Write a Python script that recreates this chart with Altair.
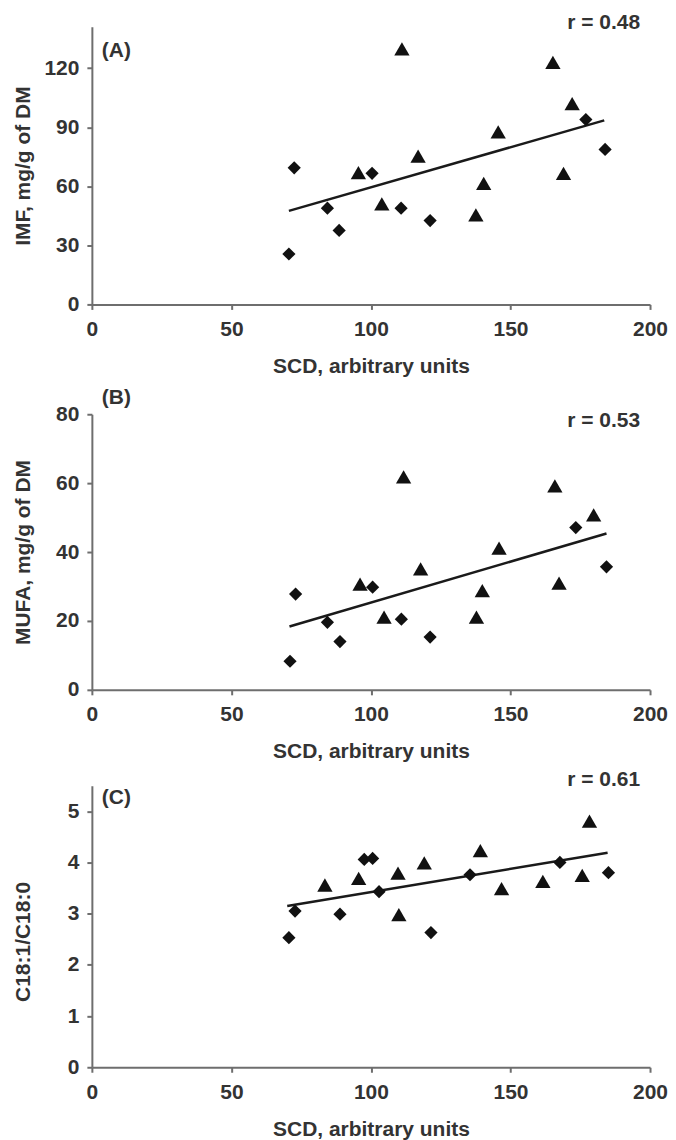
import altair as alt
import pandas as pd

# ---------------- data ----------------
# Panel A: IMF
a_dia_x = [70.6, 72.5, 84.4, 88.6, 100.4, 110.8, 121.2, 177.0, 183.9]
a_dia_y = [25.6, 69.4, 48.9, 37.6, 66.6, 48.9, 42.6, 93.9, 78.7]
a_tri_x = [95.5, 103.9, 111.1, 116.9, 137.6, 140.4, 145.6, 165.2, 169.0, 172.1]
a_tri_y = [66.9, 51.1, 129.8, 75.3, 45.5, 61.5, 87.6, 123.0, 66.6, 102.0]
a_fit_x = [70.6, 183.6]
a_fit_y = [47.5, 93.5]

# Panel B: MUFA
b_dia_x = [71.0, 73.0, 84.4, 88.9, 100.6, 110.9, 121.2, 173.4, 184.4]
b_dia_y = [8.3, 27.8, 19.6, 14.0, 29.8, 20.5, 15.3, 47.1, 35.7]
b_tri_x = [96.1, 104.7, 111.7, 117.8, 137.8, 139.9, 145.9, 165.9, 167.4, 179.8]
b_tri_y = [30.7, 21.1, 61.8, 35.1, 21.1, 28.8, 41.1, 59.2, 31.0, 50.8]
b_fit_x = [70.8, 184.4]
b_fit_y = [18.4, 45.4]

# Panel C: C18:1/C18:0
c_dia_x = [70.6, 72.8, 88.9, 97.6, 100.6, 102.9, 121.5, 135.5, 167.7, 185.1]
c_dia_y = [2.53, 3.05, 2.99, 4.06, 4.08, 3.43, 2.63, 3.76, 4.00, 3.80]
c_tri_x = [83.5, 95.6, 109.7, 110.0, 119.1, 139.2, 146.8, 161.6, 175.7, 178.3]
c_tri_y = [3.56, 3.69, 3.79, 2.98, 3.99, 4.23, 3.49, 3.63, 3.75, 4.81]
c_fit_x = [70.0, 184.8]
c_fit_y = [3.15, 4.19]

x_ticks = [0, 50, 100, 150, 200]
a_ticks = [0, 30, 60, 90, 120]
b_ticks = [0, 20, 40, 60, 80]
c_ticks = [0, 1, 2, 3, 4, 5]

FONT = "Liberation Sans"
TXT = "#333333"
AX = "#6e6e6e"
W = 559


def panel(dx, dy, tx, ty, fx, fy, ydom, yticks, ytitle, letter, rtext,
          height, yrange, title_y, letter_y, r_y):
    pts = pd.DataFrame({
        "x": dx + tx,
        "y": dy + ty,
        "g": ["d"] * len(dx) + ["t"] * len(tx),
    })
    fit = pd.DataFrame({"x": fx, "y": fy})
    xs = alt.Scale(domain=[0, 200], nice=False)
    ysk = dict(domain=ydom, nice=False, zero=True)
    if yrange is not None:
        ysk["range"] = yrange
    ys = alt.Scale(**ysk)
    xax = alt.Axis(values=x_ticks, title="SCD, arbitrary units", grid=False,
                   labelFlush=False)
    yax = alt.Axis(values=yticks, title=ytitle, grid=False, format="d",
                   titleX=-58, titleY=title_y)

    points = alt.Chart(pts).mark_point(filled=True, opacity=1, color="#111111").encode(
        x=alt.X("x:Q", scale=xs, axis=xax),
        y=alt.Y("y:Q", scale=ys, axis=yax),
        shape=alt.Shape("g:N", scale=alt.Scale(domain=["d", "t"], range=["diamond", "triangle-up"]), legend=None),
        size=alt.Size("g:N", scale=alt.Scale(domain=["d", "t"], range=[175, 235]), legend=None),
    )
    line = alt.Chart(fit).mark_line(color="#1a1a1a", strokeWidth=2.5).encode(
        x=alt.X("x:Q", scale=xs),
        y=alt.Y("y:Q", scale=ys),
    )
    lab = alt.Chart(pd.DataFrame({"t": [letter]})).mark_text(
        align="left", baseline="middle", font=FONT, fontSize=21,
        fontWeight="bold", color=TXT
    ).encode(text="t:N", x=alt.value(10), y=alt.value(letter_y))
    rt = alt.Chart(pd.DataFrame({"t": [rtext]})).mark_text(
        align="right", baseline="middle", font=FONT, fontSize=21,
        fontWeight="bold", color=TXT
    ).encode(text="t:N", x=alt.value(W - 10), y=alt.value(r_y))
    return alt.layer(line, points, lab, rt).properties(width=W, height=height)


pa = panel(a_dia_x, a_dia_y, a_tri_x, a_tri_y, a_fit_x, a_fit_y, [0, 141], a_ticks,
           "IMF, mg/g of DM", "(A)", "r = 0.48", 278, None, 139, 24, -4)
pb = panel(b_dia_x, b_dia_y, b_tri_x, b_tri_y, b_fit_x, b_fit_y, [0, 80], b_ticks,
           "MUFA, mg/g of DM", "(B)", "r = 0.53", 290, [290, 14], 152, -2, 21)
pc = panel(c_dia_x, c_dia_y, c_tri_x, c_tri_y, c_fit_x, c_fit_y, [0, 5.5], c_ticks,
           "C18:1/C18:0", "(C)", "r = 0.61", 282, None, 156, 12, -6)

chart = alt.vconcat(pa, pb, pc, spacing=96, bounds="flush").properties(
    padding={"top": 3, "left": 4, "right": 0, "bottom": 0}
).configure_view(stroke=None).configure_axis(
    labelFont=FONT, labelFontSize=21, labelFontWeight="bold", labelColor=TXT,
    titleFont=FONT, titleFontSize=21, titleFontWeight="bold", titleColor=TXT,
    domainColor=AX, tickColor=AX, domainWidth=2, tickWidth=2, tickSize=5,
).configure_axisX(labelPadding=9, titlePadding=16).configure_axisY(labelPadding=8)

chart.save("out.html", embed_options={"renderer": "svg", "actions": False})
